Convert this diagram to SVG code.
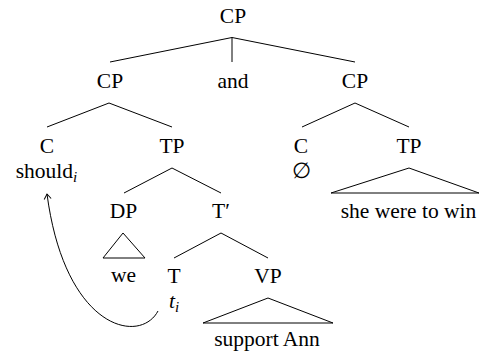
<svg xmlns="http://www.w3.org/2000/svg" width="480" height="355" viewBox="0 0 480 355">
<defs>
<marker id="arr" markerUnits="userSpaceOnUse" markerWidth="12" markerHeight="12" refX="0" refY="0" viewBox="-8 -6 12 12" orient="auto" overflow="visible">
<path d="M-5,-3.5 L0,0 L-5,3.5" fill="none" stroke="#000" stroke-width="1"/>
</marker>
<style>
text{font-family:Liberation Serif, Times New Roman, Tinos, DejaVu Serif, Noto Serif, serif;font-size:21.5px;fill:#000;text-anchor:middle}
.it{font-style:italic}
.sub{font-style:italic;font-size:15px}
line,polygon,path{stroke:#000;stroke-width:1;fill:none}
</style>
</defs>
<rect width="480" height="355" fill="#fff"/>
<g id="connectors">
<line x1="232" y1="37.5" x2="110" y2="62"/>
<line x1="232" y1="37.5" x2="232" y2="62"/>
<line x1="232" y1="37.5" x2="355" y2="62"/>
<line x1="109" y1="103" x2="47" y2="127"/>
<line x1="109" y1="103" x2="172" y2="127"/>
<line x1="355" y1="103" x2="302" y2="127"/>
<line x1="355" y1="103" x2="409" y2="127"/>
<line x1="172" y1="168" x2="124" y2="193"/>
<line x1="172" y1="168" x2="221" y2="193"/>
<line x1="221" y1="233" x2="174" y2="258"/>
<line x1="221" y1="233" x2="268" y2="258"/>
<polygon points="409,168 331,193 479,193"/>
<polygon points="123,233 103,258 145,258"/>
<polygon points="268,298 203,323 333,323"/>
<path d="M158,311 C140,345 65,330 47,194" marker-end="url(#arr)"/>
</g>
<g id="cp-root"><text x="233" y="23">CP</text></g>
<g id="cp-left"><text x="110" y="88">CP</text></g>
<g id="and"><text x="233" y="88">and</text></g>
<g id="cp-right"><text x="355" y="88">CP</text></g>
<g id="c-left"><text x="47" y="153">C</text><text x="46.5" y="178">should<tspan class="sub" dy="4">i</tspan></text></g>
<g id="tp-left"><text x="172" y="153">TP</text></g>
<g id="c-right"><text x="301" y="153">C</text><text x="301" y="178">∅</text></g>
<g id="tp-right"><text x="409" y="153">TP</text><text x="408.5" y="218">she were to win</text></g>
<g id="dp"><text x="123.5" y="218">DP</text><text x="123.5" y="282">we</text></g>
<g id="t-bar"><text x="221" y="218">T′</text></g>
<g id="t"><text x="174" y="283">T</text><text x="174" y="308"><tspan class="it">t</tspan><tspan class="sub" dy="4">i</tspan></text></g>
<g id="vp"><text x="268" y="283">VP</text><text x="267" y="346">support Ann</text></g>
</svg>
